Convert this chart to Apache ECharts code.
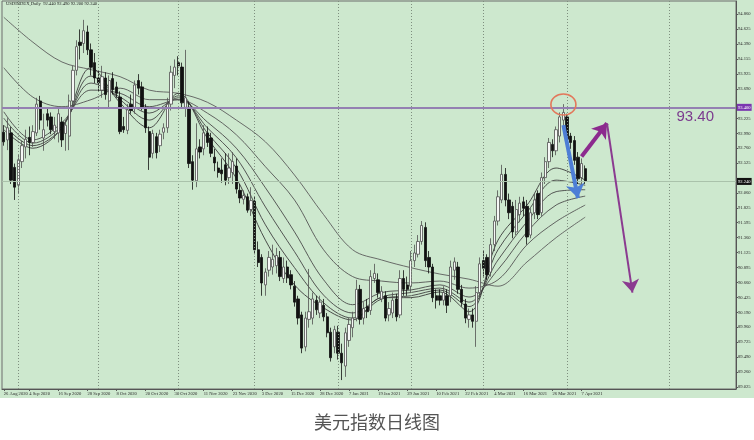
<!DOCTYPE html>
<html><head><meta charset="utf-8">
<script src="https://cdn.jsdelivr.net/npm/echarts@6/dist/echarts.min.js"></script>
<style>html,body{margin:0;padding:0;background:#fff}#c{width:754px;height:440px}</style>
</head><body><div id="c"></div><script>
const chartTitle = 'USDINDEX,Daily  92.440 92.490 92.200 92.240';
const caption = '美元指数日线图';
const dates = [
'26 Aug 2020','27 Aug 2020','28 Aug 2020','31 Aug 2020',
'1 Sep 2020','2 Sep 2020','3 Sep 2020','4 Sep 2020','7 Sep 2020','8 Sep 2020','9 Sep 2020','10 Sep 2020','11 Sep 2020','14 Sep 2020','15 Sep 2020','16 Sep 2020','17 Sep 2020','18 Sep 2020','21 Sep 2020','22 Sep 2020','23 Sep 2020','24 Sep 2020','25 Sep 2020','28 Sep 2020','29 Sep 2020','30 Sep 2020',
'1 Oct 2020','2 Oct 2020','5 Oct 2020','6 Oct 2020','7 Oct 2020','8 Oct 2020','9 Oct 2020','12 Oct 2020','13 Oct 2020','14 Oct 2020','15 Oct 2020','16 Oct 2020','19 Oct 2020','20 Oct 2020','21 Oct 2020','22 Oct 2020','23 Oct 2020','26 Oct 2020','27 Oct 2020','28 Oct 2020','29 Oct 2020','30 Oct 2020',
'2 Nov 2020','3 Nov 2020','4 Nov 2020','5 Nov 2020','6 Nov 2020','9 Nov 2020','10 Nov 2020','11 Nov 2020','12 Nov 2020','13 Nov 2020','16 Nov 2020','17 Nov 2020','18 Nov 2020','19 Nov 2020','20 Nov 2020','23 Nov 2020','24 Nov 2020','25 Nov 2020','26 Nov 2020','27 Nov 2020','30 Nov 2020',
'1 Dec 2020','2 Dec 2020','3 Dec 2020','4 Dec 2020','7 Dec 2020','8 Dec 2020','9 Dec 2020','10 Dec 2020','11 Dec 2020','14 Dec 2020','15 Dec 2020','16 Dec 2020','17 Dec 2020','18 Dec 2020','21 Dec 2020','22 Dec 2020','23 Dec 2020','24 Dec 2020','28 Dec 2020','29 Dec 2020','30 Dec 2020','31 Dec 2020',
'1 Jan 2021','4 Jan 2021','5 Jan 2021','6 Jan 2021','7 Jan 2021','8 Jan 2021','11 Jan 2021','12 Jan 2021','13 Jan 2021','14 Jan 2021','15 Jan 2021','18 Jan 2021','19 Jan 2021','20 Jan 2021','21 Jan 2021','22 Jan 2021','25 Jan 2021','26 Jan 2021','27 Jan 2021','28 Jan 2021','29 Jan 2021',
'1 Feb 2021','2 Feb 2021','3 Feb 2021','4 Feb 2021','5 Feb 2021','8 Feb 2021','9 Feb 2021','10 Feb 2021','11 Feb 2021','12 Feb 2021','15 Feb 2021','16 Feb 2021','17 Feb 2021','18 Feb 2021','19 Feb 2021','22 Feb 2021','23 Feb 2021','24 Feb 2021','25 Feb 2021','26 Feb 2021',
'1 Mar 2021','2 Mar 2021','3 Mar 2021','4 Mar 2021','5 Mar 2021','8 Mar 2021','9 Mar 2021','10 Mar 2021','11 Mar 2021','12 Mar 2021','15 Mar 2021','16 Mar 2021','17 Mar 2021','18 Mar 2021','19 Mar 2021','22 Mar 2021','23 Mar 2021','24 Mar 2021','25 Mar 2021','26 Mar 2021','29 Mar 2021','30 Mar 2021','31 Mar 2021',
'1 Apr 2021','2 Apr 2021','5 Apr 2021','6 Apr 2021','7 Apr 2021','8 Apr 2021',
'9 Apr 2021','12 Apr 2021','13 Apr 2021','14 Apr 2021','15 Apr 2021','16 Apr 2021','19 Apr 2021','20 Apr 2021','21 Apr 2021','22 Apr 2021','23 Apr 2021','26 Apr 2021','27 Apr 2021','28 Apr 2021','29 Apr 2021','30 Apr 2021',
'3 May 2021','4 May 2021','5 May 2021','6 May 2021','7 May 2021','10 May 2021','11 May 2021','12 May 2021','13 May 2021','14 May 2021','17 May 2021','18 May 2021','19 May 2021','20 May 2021','21 May 2021','24 May 2021','25 May 2021','26 May 2021','27 May 2021','28 May 2021','31 May 2021',
'1 Jun 2021','2 Jun 2021','3 Jun 2021','4 Jun 2021'];

const opens = [93.01,92.89,93.00,92.46,92.18,92.55,92.78,92.93,92.85,93.00,93.50,92.92,93.30,93.25,93.02,93.00,93.17,92.99,92.95,93.50,
93.98,94.42,94.40,94.58,94.30,94.10,93.86,93.67,93.86,93.50,93.85,93.72,93.56,93.10,93.04,93.45,93.40,93.82,93.72,93.40,
93.02,92.68,92.94,92.80,93.01,93.08,93.45,93.90,94.10,94.03,93.40,93.40,92.55,92.25,92.78,92.75,93.00,92.92,92.62,92.45,
92.42,92.50,92.30,92.38,92.48,92.10,91.96,92.00,91.80,91.93,91.17,91.05,90.62,90.85,90.90,90.92,91.05,90.72,90.90,90.78,
90.60,90.40,90.15,89.65,90.08,90.10,90.38,90.18,90.30,90.12,89.88,89.65,89.88,89.55,89.35,89.75,89.95,90.10,90.55,90.10,
90.28,90.22,90.72,90.70,90.40,90.45,90.15,90.18,90.40,90.15,90.72,90.62,90.60,91.00,91.10,91.30,91.52,91.05,90.90,90.45,
90.45,90.38,90.45,90.45,90.85,90.90,90.55,90.32,90.08,90.15,90.05,90.50,91.00,91.05,90.82,91.25,91.62,91.95,92.35,91.95,
91.85,91.45,91.72,91.92,91.85,91.40,91.75,92.05,91.75,92.30,92.55,92.82,92.72,92.95,93.20,93.25,92.95,92.88,92.62,92.30,92.44];
const highs = [93.12,93.23,93.09,92.52,92.66,92.88,93.05,93.10,93.12,93.55,93.58,93.30,93.40,93.32,93.25,93.40,93.25,93.20,93.60,94.05,
94.45,94.62,94.77,94.68,94.40,94.25,93.98,94.05,93.95,93.90,93.95,93.80,93.65,93.25,93.45,93.60,93.82,93.92,93.80,93.45,
93.10,93.05,93.00,93.05,93.15,93.55,94.05,94.15,94.20,94.10,94.30,93.48,92.65,93.15,92.90,93.12,93.10,93.00,92.75,92.55,
92.60,92.68,92.68,92.70,92.60,92.20,92.10,92.05,92.15,92.00,91.30,91.10,90.88,91.15,91.25,91.20,91.15,91.05,91.00,90.85,
90.68,90.45,90.20,90.20,90.87,90.50,90.45,90.45,90.40,90.18,89.95,89.98,89.98,89.70,89.95,90.10,90.20,90.70,90.62,90.35,
90.40,90.85,90.95,90.80,90.60,90.52,90.35,90.50,90.48,90.85,90.85,90.75,91.15,91.25,91.40,91.62,91.60,91.15,90.95,90.55,
90.55,90.60,90.55,91.00,91.05,90.98,90.62,90.40,90.25,90.25,90.60,91.05,91.15,91.10,91.35,91.70,92.10,92.50,92.45,92.05,
91.92,91.95,92.00,92.00,91.95,91.82,92.05,92.10,92.38,92.62,92.92,92.90,93.10,93.32,93.45,93.30,93.00,92.95,92.70,92.60,92.49];
const lows = [92.80,92.73,92.20,91.95,92.05,92.45,92.60,92.65,92.78,92.95,93.05,92.72,93.10,92.98,92.90,92.85,92.78,92.72,92.73,93.40,
93.90,94.15,94.25,94.22,93.90,93.78,93.65,93.55,93.52,93.40,93.60,93.55,92.98,93.00,92.98,93.30,93.30,93.60,93.35,93.00,
92.42,92.60,92.60,92.70,92.90,93.00,93.35,93.70,93.90,93.40,93.25,92.45,92.11,92.15,92.60,92.65,92.78,92.62,92.40,92.30,
92.22,92.18,92.20,92.20,92.05,91.90,91.88,91.75,91.70,91.10,90.90,90.45,90.45,90.75,90.78,90.80,90.68,90.65,90.65,90.55,
90.28,90.00,89.55,89.58,89.95,90.00,90.15,90.10,90.05,89.80,89.42,89.55,89.45,89.13,89.18,89.65,89.80,90.05,90.00,90.00,
90.10,90.15,90.65,90.42,90.35,90.05,90.05,90.10,90.05,90.10,90.45,90.45,90.50,90.90,91.05,91.25,90.90,90.80,90.35,90.25,
90.30,90.30,90.18,90.35,90.70,90.48,90.28,90.02,89.95,89.95,89.65,90.40,90.75,90.70,90.75,91.15,91.55,91.90,91.85,91.65,
91.35,91.40,91.60,91.70,91.25,91.35,91.65,91.65,91.70,92.20,92.45,92.62,92.65,92.85,93.05,92.82,92.75,92.50,92.20,92.15,92.20];
const closes = [92.86,93.08,92.26,92.15,92.58,92.80,92.90,92.85,93.02,93.45,93.20,93.05,93.20,93.05,93.12,93.30,92.89,93.12,93.50,93.98,
94.35,94.37,94.60,94.30,94.03,93.86,93.78,93.88,93.60,93.82,93.68,93.62,93.02,93.05,93.36,93.35,93.75,93.70,93.40,93.08,
92.62,92.99,92.69,92.98,93.08,93.45,93.95,94.03,94.05,93.47,93.55,92.52,92.26,92.75,92.70,93.00,92.85,92.68,92.53,92.38,
92.36,92.26,92.45,92.55,92.12,91.98,92.02,91.79,91.94,91.17,90.97,90.65,90.82,91.05,91.02,91.08,90.75,90.90,90.73,90.62,
90.35,90.10,89.63,90.10,90.20,90.40,90.23,90.35,90.12,89.87,89.48,89.92,89.55,89.40,89.87,90.00,90.10,90.55,90.08,90.25,
90.20,90.75,90.80,90.50,90.52,90.10,90.25,90.38,90.12,90.72,90.55,90.55,91.00,91.12,91.30,91.55,91.00,90.90,90.42,90.38,
90.38,90.50,90.30,90.90,90.98,90.55,90.35,90.10,90.15,90.05,90.50,90.95,90.88,90.78,91.25,91.62,92.00,92.35,91.95,91.75,
91.45,91.80,91.90,91.82,91.37,91.75,91.95,91.72,92.30,92.55,92.85,92.72,93.05,93.25,93.32,92.90,92.85,92.57,92.28,92.52,92.24];

// moving averages every 8 bars
const maIdx = [0,8,16,24,32,40,48,56,64,72,80,88,96,104,112,120,128,136,144,152,160];
const maA = [94.81,94.42,94.11,93.99,93.88,93.67,93.62,93.48,93.20,92.86,92.34,91.72,91.17,91.01,90.89,90.79,90.71,90.60,90.98,91.36,91.68];
const maB = [94.02,93.56,93.41,93.52,93.70,93.52,93.52,93.31,92.97,92.47,91.95,91.17,90.75,90.68,90.65,90.68,90.57,90.70,91.25,91.61,91.87];
const maC = [93.33,92.89,93.16,93.67,93.62,93.41,93.52,93.17,92.76,92.14,91.45,90.70,90.31,90.50,90.54,90.62,90.43,90.86,91.45,91.87,92.01];
const maD = [93.23,92.84,93.11,93.78,93.56,93.31,93.55,93.08,92.61,91.84,91.14,90.46,90.18,90.43,90.50,90.57,90.35,91.01,91.61,92.08,92.11];
const maE = [93.12,92.80,93.08,93.89,93.52,93.20,93.58,93.00,92.45,91.56,90.89,90.34,90.10,90.40,90.45,90.54,90.28,91.17,91.76,92.26,92.18];
const maF = [93.05,92.76,93.08,94.02,93.47,93.08,93.62,92.92,92.29,91.32,90.62,90.26,90.07,90.42,90.42,90.51,90.20,91.32,91.87,92.45,92.26];

const xTickLabels = ['26 Aug 2020','4 Sep 2020','16 Sep 2020','28 Sep 2020','8 Oct 2020','20 Oct 2020','30 Oct 2020','11 Nov 2020','23 Nov 2020','3 Dec 2020','15 Dec 2020','28 Dec 2020','7 Jan 2021','19 Jan 2021','29 Jan 2021','10 Feb 2021','22 Feb 2021','4 Mar 2021','16 Mar 2021','26 Mar 2021','7 Apr 2021'];
const yTickValues = [94.860,94.625,94.390,94.155,93.925,93.690,93.225,92.990,92.760,92.525,92.060,91.825,91.595,91.360,91.125,90.895,90.660,90.425,90.190,89.960,89.725,89.490,89.260,89.025];
const gridDates = ['1 Sep 2020','1 Oct 2020','2 Nov 2020','1 Dec 2020','4 Jan 2021','1 Feb 2021','1 Mar 2021','1 Apr 2021','11 May 2021'];
const levelLine = 93.40;
const levelText = '93.40';
const bidPrice = 92.24;

const N = dates.length;
const candles = opens.map((o,i)=>[o, closes[i], lows[i], highs[i]]);
function expand(vals){ const a = new Array(N).fill(null); maIdx.forEach((k,j)=>{a[k]=vals[j];}); return a; }
const tiny = {fontFamily:'Liberation Sans Narrow', fontSize:4.6, color:'#2a2a2a'};

function maSeries(vals, color){
  return {type:'line', data:expand(vals), connectNulls:true, smooth:0.35, showSymbol:false, silent:true,
    lineStyle:{color:color, width:0.9}, z:2};
}
function arrow(a, b, color, width, head){
  return [
    {coord:[dates[a[0]], a[1]], symbol:'none', lineStyle:{color:color, width:width, type:'solid'}, label:{show:false}},
    {coord:[dates[b[0]], b[1]], symbol:'arrow', symbolSize:head, lineStyle:{color:color, width:width, type:'solid'}, label:{show:false}}
  ];
}

const chart = echarts.init(document.getElementById('c'));
chart.setOption({
  animation:false,
  backgroundColor:'#ffffff',
  graphic:[{type:'rect', z:-10, silent:true, shape:{x:0,y:0,width:754,height:398}, style:{fill:'#cde8ce'}}],
  title:[
    {text:chartTitle, left:6, top:1, padding:0, textStyle:{fontFamily:'Liberation Sans Narrow', fontSize:4.6, fontWeight:'normal', color:'#222'}},
    {text:caption, left:'center', top:413, padding:0, textStyle:{fontFamily:'Noto Sans CJK SC', fontSize:18, fontWeight:'normal', color:'#555'}}
  ],
  grid:{left:2, right:18, top:1, bottom:51, show:true, borderColor:'#6d6d6d', borderWidth:1, backgroundColor:'transparent'},
  xAxis:{type:'category', data:dates, boundaryGap:true,
    axisLine:{show:true, lineStyle:{color:'#555'}},
    axisTick:{show:true, alignWithLabel:true, length:2, interval:(i,v)=>xTickLabels.includes(v), lineStyle:{color:'#555'}},
    axisLabel:Object.assign({interval:(i,v)=>xTickLabels.includes(v), align:'left', margin:2}, tiny),
    splitLine:{show:false}},
  yAxis:{type:'value', position:'right', min:88.99, max:95.065, splitLine:{show:false},
    axisLine:{show:true, lineStyle:{color:'#555'}},
    axisTick:{show:true, customValues:yTickValues, length:2, lineStyle:{color:'#555'}},
    axisLabel:Object.assign({customValues:yTickValues, formatter:v=>v.toFixed(3), margin:2}, tiny)},
  series:[
    maSeries(maA,'#5c5c5c'), maSeries(maB,'#555555'), maSeries(maC,'#4a4a4a'),
    maSeries(maD,'#454545'), maSeries(maE,'#404040'), maSeries(maF,'#3a3a3a'),
    {type:'candlestick', data:candles, barWidth:2.8, z:3,
      itemStyle:{color:'#f6f8f6', color0:'#111111', borderColor:'#505050', borderColor0:'#111111', borderWidth:0.8},
      markLine:{silent:true, symbol:['none','none'], animation:false,
        data:[
          ...gridDates.map(d=>({xAxis:d, lineStyle:{type:[1,2], color:'#7f8f7f', width:1}, label:{show:false}})),
          {yAxis:bidPrice, lineStyle:{color:'#aac2ab', width:1, type:'solid'},
            label:{show:true, position:'end', formatter:bidPrice.toFixed(3), backgroundColor:'#111', color:'#fff', padding:[1,1], distance:1, fontFamily:'Liberation Sans Narrow', fontSize:4.6}},
          {yAxis:levelLine, lineStyle:{color:'#9480b2', width:2, type:'solid'},
            label:{show:true, position:'end', formatter:levelLine.toFixed(3), backgroundColor:'#7a35b0', color:'#fff', padding:[1,1], distance:1, fontFamily:'Liberation Sans Narrow', fontSize:4.6}},
          {yAxis:levelLine, lineStyle:{color:'rgba(0,0,0,0)', width:0},
            label:{show:true, position:'insideEndBottom', formatter:levelText, color:'#7b3a8e', distance:[22,2], fontFamily:'Liberation Sans', fontSize:15}},
          arrow([154,93.12],[158,91.98],'#4d7ed6',4,14),
          arrow([159,92.63],[166,93.15],'#8c2a8e',4,14),
          arrow([166,93.15],[173,90.50],'#8b3a90',2,13)
        ]},
      markPoint:{silent:true, animation:false,
        data:[{coord:[dates[154], 93.445], symbol:'circle', symbolSize:[25,21],
          itemStyle:{color:'rgba(0,0,0,0)', borderColor:'#e2785c', borderWidth:1.5}, label:{show:false}}]}
    }
  ]
});
</script></body></html>
